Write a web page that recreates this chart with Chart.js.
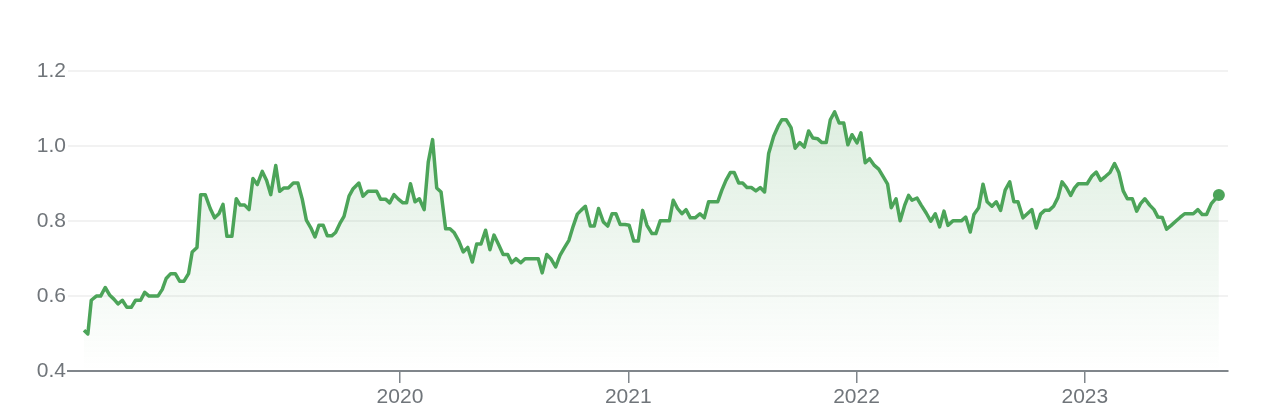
<!DOCTYPE html>
<html>
<head>
<meta charset="utf-8">
<script src="https://cdn.jsdelivr.net/npm/chart.js@4/dist/chart.umd.min.js"></script>
<style>
  html, body { margin: 0; padding: 0; background: #fff; }
  #wrap { width: 1282px; height: 410px; position: relative; }
</style>
</head>
<body>
<div id="wrap"><canvas id="priceChart"></canvas></div>
<script>
// weekly closes, x given as decimal year
var dates = [
  2018.616, 2018.633, 2018.648, 2018.670, 2018.689, 2018.709, 2018.728, 2018.747, 2018.765, 2018.784,
  2018.804, 2018.823, 2018.842, 2018.864, 2018.882, 2018.901, 2018.920, 2018.940, 2018.959, 2018.976,
  2018.996, 2019.016, 2019.035, 2019.054, 2019.074, 2019.090, 2019.111, 2019.127, 2019.147, 2019.169,
  2019.188, 2019.207, 2019.225, 2019.242, 2019.264, 2019.283, 2019.300, 2019.320,
  2019.339, 2019.356, 2019.375, 2019.397, 2019.416, 2019.434, 2019.456, 2019.473, 2019.492, 2019.511,
  2019.533, 2019.553, 2019.572, 2019.590, 2019.609, 2019.628, 2019.645, 2019.664, 2019.682, 2019.701,
  2019.718, 2019.737, 2019.755, 2019.777, 2019.795, 2019.820, 2019.838, 2019.860, 2019.879, 2019.898,
  2019.915, 2019.937, 2019.955, 2019.974, 2019.993, 2020.013, 2020.029, 2020.046,
  2020.066, 2020.085, 2020.106, 2020.124, 2020.143, 2020.161, 2020.180, 2020.200, 2020.219, 2020.238,
  2020.258, 2020.277, 2020.297, 2020.317, 2020.336, 2020.355, 2020.375, 2020.394, 2020.412, 2020.431,
  2020.452, 2020.472, 2020.489, 2020.508, 2020.529, 2020.548, 2020.569, 2020.588, 2020.606, 2020.623,
  2020.643, 2020.661, 2020.682, 2020.701, 2020.720, 2020.740, 2020.759, 2020.777,
  2020.793, 2020.812, 2020.834, 2020.851, 2020.870, 2020.891, 2020.910, 2020.929, 2020.946, 2020.965,
  2020.986, 2021.004, 2021.024, 2021.044, 2021.063, 2021.082, 2021.104, 2021.121, 2021.140, 2021.162,
  2021.180, 2021.197, 2021.216, 2021.235, 2021.253, 2021.272, 2021.293, 2021.314, 2021.333, 2021.352,
  2021.372, 2021.392, 2021.410, 2021.428, 2021.447, 2021.464, 2021.484, 2021.501,
  2021.520, 2021.539, 2021.559, 2021.578, 2021.597, 2021.615, 2021.637, 2021.656, 2021.673, 2021.692,
  2021.713, 2021.731, 2021.751, 2021.771, 2021.790, 2021.809, 2021.830, 2021.848, 2021.867, 2021.885,
  2021.904, 2021.924, 2021.944, 2021.962, 2021.980, 2022.002, 2022.019, 2022.038, 2022.057, 2022.078,
  2022.097, 2022.116, 2022.136, 2022.152, 2022.173, 2022.191, 2022.211, 2022.228,
  2022.243, 2022.265, 2022.283, 2022.305, 2022.325, 2022.345, 2022.364, 2022.383, 2022.400, 2022.422,
  2022.441, 2022.459, 2022.478, 2022.498, 2022.514, 2022.535, 2022.554, 2022.572, 2022.593, 2022.612,
  2022.631, 2022.651, 2022.671, 2022.689, 2022.707, 2022.729, 2022.748, 2022.768, 2022.787, 2022.806,
  2022.824, 2022.843, 2022.863, 2022.882, 2022.900, 2022.919, 2022.938, 2022.955,
  2022.971, 2022.992, 2023.010, 2023.030, 2023.050, 2023.069, 2023.091, 2023.110, 2023.130, 2023.149,
  2023.168, 2023.186, 2023.208, 2023.227, 2023.244, 2023.263, 2023.284, 2023.303, 2023.320, 2023.339,
  2023.358, 2023.378, 2023.398, 2023.417, 2023.437, 2023.456, 2023.475, 2023.495, 2023.514, 2023.533,
  2023.554, 2023.587
];
var prices = [
  0.509, 0.499, 0.589, 0.600, 0.600, 0.623, 0.603, 0.592, 0.579, 0.589,
  0.570, 0.570, 0.589, 0.589, 0.610, 0.600, 0.600, 0.600, 0.618, 0.647,
  0.660, 0.660, 0.640, 0.640, 0.660, 0.718, 0.730, 0.871, 0.871, 0.834,
  0.809, 0.820, 0.845, 0.760, 0.760, 0.860, 0.843, 0.843,
  0.831, 0.914, 0.898, 0.933, 0.909, 0.871, 0.949, 0.880, 0.889, 0.889,
  0.902, 0.902, 0.859, 0.803, 0.783, 0.758, 0.789, 0.789, 0.761, 0.761,
  0.770, 0.794, 0.813, 0.867, 0.887, 0.902, 0.867, 0.880, 0.880, 0.880,
  0.859, 0.859, 0.849, 0.871, 0.859, 0.849, 0.849, 0.900,
  0.852, 0.860, 0.831, 0.958, 1.018, 0.889, 0.878, 0.780, 0.780, 0.769,
  0.747, 0.718, 0.730, 0.691, 0.739, 0.739, 0.776, 0.724, 0.763, 0.739,
  0.711, 0.711, 0.689, 0.700, 0.689, 0.700, 0.700, 0.700, 0.700, 0.662,
  0.711, 0.700, 0.678, 0.709, 0.729, 0.749, 0.787, 0.819,
  0.829, 0.840, 0.787, 0.787, 0.834, 0.798, 0.787, 0.820, 0.820, 0.791,
  0.791, 0.789, 0.747, 0.747, 0.829, 0.789, 0.767, 0.767, 0.801, 0.801,
  0.801, 0.856, 0.834, 0.820, 0.831, 0.809, 0.809, 0.820, 0.809, 0.852,
  0.852, 0.852, 0.883, 0.909, 0.930, 0.930, 0.902, 0.902,
  0.890, 0.890, 0.881, 0.890, 0.878, 0.981, 1.027, 1.053, 1.071, 1.071,
  1.050, 0.995, 1.010, 0.998, 1.041, 1.022, 1.020, 1.010, 1.010, 1.071,
  1.092, 1.062, 1.062, 1.004, 1.031, 1.009, 1.036, 0.956, 0.967, 0.949,
  0.939, 0.920, 0.899, 0.836, 0.860, 0.801, 0.843, 0.869,
  0.856, 0.862, 0.843, 0.822, 0.800, 0.820, 0.785, 0.827, 0.789, 0.801,
  0.801, 0.801, 0.811, 0.771, 0.818, 0.836, 0.899, 0.852, 0.840, 0.852,
  0.829, 0.883, 0.905, 0.852, 0.852, 0.809, 0.820, 0.831, 0.782, 0.819,
  0.829, 0.829, 0.840, 0.863, 0.905, 0.890, 0.869, 0.889,
  0.900, 0.900, 0.900, 0.920, 0.931, 0.909, 0.920, 0.930, 0.954, 0.930,
  0.881, 0.860, 0.860, 0.827, 0.847, 0.860, 0.843, 0.831, 0.811, 0.810,
  0.779, 0.789, 0.800, 0.810, 0.820, 0.820, 0.820, 0.831, 0.818, 0.818,
  0.847, 0.870
];
var yearTicks = [2020, 2021, 2022, 2023];
var priceTicks = [0.4, 0.6, 0.8, 1.0, 1.2];

var green = '#4ca459';
var labelFont = { family: "'Liberation Sans', Arial, sans-serif", size: 21 };

var points = dates.map(function(d, i) { return { x: d, y: prices[i] }; });
var lastIdx = points.length - 1;

var ctx = document.getElementById('priceChart').getContext('2d');
new Chart(ctx, {
  type: 'line',
  data: {
    datasets: [{
      data: points,
      borderColor: green,
      borderWidth: 3.5,
      borderJoinStyle: 'round',
      tension: 0,
      fill: 'start',
      backgroundColor: function(c) {
        var area = c.chart.chartArea;
        if (!area) { return 'rgba(76,164,89,0.1)'; }
        var g = c.chart.ctx.createLinearGradient(0, area.top + 60, 0, area.bottom);
        g.addColorStop(0, 'rgba(76,164,89,0.2)');
        g.addColorStop(1, 'rgba(76,164,89,0)');
        return g;
      },
      pointRadius: function(c) { return c.dataIndex === lastIdx ? 6 : 0; },
      pointBackgroundColor: green,
      pointBorderWidth: 0,
      pointHoverRadius: 0
    }]
  },
  options: {
    responsive: true,
    maintainAspectRatio: false,
    animation: false,
    layout: { padding: { top: 34, right: 54, left: 0, bottom: 0 } },
    plugins: {
      legend: { display: false },
      tooltip: { enabled: false }
    },
    scales: {
      x: {
        type: 'linear',
        min: 2018.546,
        max: 2023.627,
        afterFit: function(s) { s.height = 39; },
        afterBuildTicks: function(s) { s.ticks = yearTicks.map(function(v) { return { value: v }; }); },
        border: { display: true, color: '#80868b', width: 2 },
        grid: { drawOnChartArea: false, drawTicks: true, tickLength: 12, color: '#80868b', lineWidth: 1.5 },
        ticks: {
          color: '#70757a',
          font: labelFont,
          padding: 2,
          maxRotation: 0,
          autoSkip: false,
          callback: function(v) { return String(v); }
        }
      },
      y: {
        min: 0.4,
        max: 1.3,
        afterFit: function(s) { s.width = 68; },
        afterBuildTicks: function(s) { s.ticks = priceTicks.map(function(v) { return { value: v }; }); },
        border: { display: false },
        grid: { drawTicks: false, color: '#f2f2f2', lineWidth: 2 },
        ticks: {
          color: '#70757a',
          font: labelFont,
          padding: 2,
          callback: function(v) { return v.toFixed(1); }
        }
      }
    }
  }
});
</script>
</body>
</html>
